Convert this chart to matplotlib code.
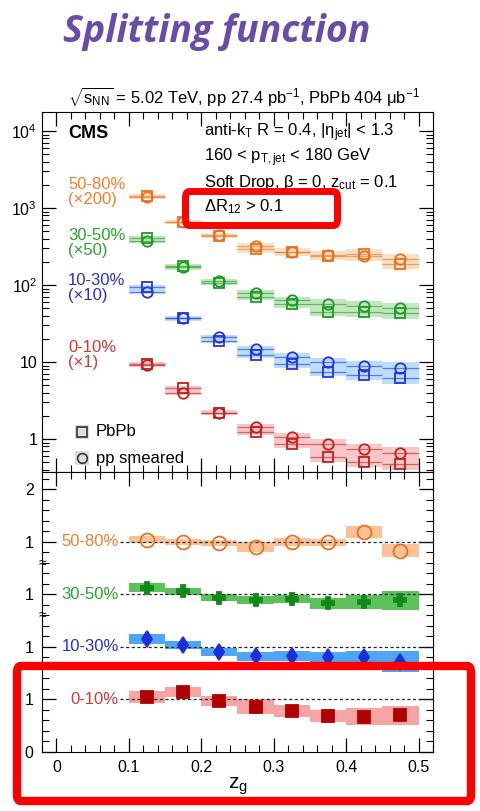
import matplotlib

matplotlib.use("Agg")
import matplotlib.pyplot as plt
from matplotlib.patches import Rectangle, FancyBboxPatch
from matplotlib.ticker import FixedLocator, MultipleLocator, LogLocator, NullFormatter, FixedFormatter

plt.rcParams.update({
    "font.family": ["Liberation Sans", "DejaVu Sans"],
    "font.size": 12,
    "mathtext.fontset": "custom",
    "mathtext.rm": "Liberation Sans",
    "mathtext.it": "Liberation Sans:italic",
    "mathtext.bf": "Liberation Sans:bold",
    "xtick.direction": "in",
    "ytick.direction": "in",
    "xtick.labelsize": 11.5,
    "ytick.labelsize": 11.5,
})

# z_g bins
ZG_LO = [0.10, 0.15, 0.20, 0.25, 0.30, 0.35, 0.40, 0.45]
ZG = [0.125, 0.175, 0.225, 0.275, 0.325, 0.375, 0.425, 0.475]
ANCHO = 0.05

# top panel: 1/N dN/dz_g, already multiplied by the factor in the label
PBPB_0_10 = [9.4, 4.6, 2.2, 1.23, 0.86, 0.58, 0.50, 0.47]
PP_0_10 = [9.1, 4.0, 2.2, 1.43, 1.06, 0.87, 0.74, 0.66]
PBPB_10_30 = [94, 37, 19, 12.3, 9.4, 7.4, 6.8, 6.2]
PP_10_30 = [81, 37, 21, 14.8, 11.6, 10.0, 8.9, 8.4]
PBPB_30_50 = [410, 175, 107, 70, 57, 45, 45, 43]
PP_30_50 = [370, 170, 112, 79, 63, 57, 53, 50]
PBPB_50_80 = [1450, 660, 435, 290, 270, 240, 255, 188]
PP_50_80 = [1400, 660, 440, 320, 270, 242, 240, 217]
SYS_TOP = [0.06, 0.07, 0.08, 0.10, 0.12, 0.14, 0.16, 0.18]

# bottom panel: PbPb / pp smeared
RATIO_0_10 = [1.05, 1.14, 0.97, 0.86, 0.78, 0.69, 0.67, 0.70]
ERR_0_10 = [0.12, 0.10, 0.10, 0.14, 0.12, 0.11, 0.16, 0.18]
RATIO_10_30 = [1.15, 1.04, 0.90, 0.82, 0.83, 0.80, 0.80, 0.72]
ERR_10_30 = [0.10, 0.08, 0.08, 0.08, 0.09, 0.10, 0.13, 0.20]
RATIO_30_50 = [1.13, 1.06, 0.94, 0.89, 0.91, 0.83, 0.85, 0.89]
ERR_30_50 = [0.08, 0.07, 0.07, 0.08, 0.08, 0.11, 0.13, 0.18]
RATIO_50_80 = [1.04, 1.00, 0.98, 0.90, 1.00, 0.99, 1.19, 0.83]
ERR_50_80 = [0.07, 0.06, 0.06, 0.09, 0.07, 0.07, 0.12, 0.12]

CENTRALIDAD = ["0-10%", "10-30%", "30-50%", "50-80%"]
FACTOR = ["(×1)", "(×10)", "(×50)", "(×200)"]

NARANJA = "#ef7f2e"
VERDE = "#2ea02c"
AZUL = "#2a2fd0"
ROJO = "#d03838"

series = [
    # label color, marker color, top light, ratio box, ratio marker, data
    dict(txt=ROJO, mk="#c41e1e", luz="#f7b0b0", caja="#f59a9a", mr="s", mc="#b00000", ms=8,
         pbpb=PBPB_0_10, pp=PP_0_10, r=RATIO_0_10, e=ERR_0_10, ytxt=355),
    dict(txt=AZUL, mk="#2233dd", luz="#9fcfff", caja="#3a9cf5", mr="d", mc="#1f2fd8", ms=8,
         pbpb=PBPB_10_30, pp=PP_10_30, r=RATIO_10_30, e=ERR_10_30, ytxt=288),
    dict(txt=VERDE, mk="#1f9a26", luz="#a9dea5", caja="#4bbb48", mr="P", mc="#0f8a1a", ms=9,
         pbpb=PBPB_30_50, pp=PP_30_50, r=RATIO_30_50, e=ERR_30_50, ytxt=243),
    dict(txt=NARANJA, mk="#e8711f", luz="#fcd2ad", caja="#fbbd8a", mr="o", mc="none", ms=10,
         pbpb=PBPB_50_80, pp=PP_50_80, r=RATIO_50_80, e=ERR_50_80, ytxt=192),
]

W, H = 481, 811
fig = plt.figure(figsize=(W / 100, H / 100), dpi=100)
ax = fig.add_axes([42 / W, 1 - 472 / H, 391 / W, 360 / H])
axr = fig.add_axes([42 / W, 1 - 752 / H, 391 / W, 280 / H], sharex=ax)

XMIN, XMAX = -0.02, 0.52

# ---- top panel
for s in series:
    for lo, v1, v2, sy in zip(ZG_LO, s["pbpb"], s["pp"], SYS_TOP):
        top = max(v1, v2) * (1 + sy)
        bot = min(v1, v2) / (1 + sy)
        ax.add_patch(Rectangle((lo, bot), ANCHO, top - bot, fc=s["luz"], ec="none", alpha=0.7, zorder=1))
        ax.hlines([v1, v2], lo, lo + ANCHO, color=s["mk"], lw=0.9, alpha=0.6, zorder=2)
    ax.plot(ZG, s["pbpb"], ls="none", marker="s", ms=7, mfc="none", mec=s["mk"], mew=1.3, zorder=4)
    ax.plot(ZG, s["pp"], ls="none", marker="o", ms=7.5, mfc="none", mec=s["mk"], mew=1.3, zorder=4)

ax.set_yscale("log")
ax.set_xlim(XMIN, XMAX)
ax.set_ylim(10 ** -0.4286, 10 ** 4.247)
ax.yaxis.set_major_locator(FixedLocator([1, 10, 100, 1000, 10000]))
ax.yaxis.set_major_formatter(FixedFormatter(["1", "10", "10$^2$", "10$^3$", "10$^4$"]))
ax.yaxis.set_minor_locator(LogLocator(subs=range(2, 10)))
ax.yaxis.set_minor_formatter(NullFormatter())
ax.tick_params(axis="both", which="both", top=True, right=True, labelbottom=False)
ax.tick_params(which="major", length=10, width=0.9)
ax.tick_params(which="minor", length=5, width=0.8)

for s, cen, fac in zip(series, CENTRALIDAD, FACTOR):
    ax.text((68 - 42) / 391, (472 - s["ytxt"]) / 360, f"{cen}\n{fac}", transform=ax.transAxes,
            color=s["txt"], ha="left", va="center", linespacing=1.05, fontsize=12)

ax.text((68 - 42) / 391, (472 - 133) / 360, "CMS", transform=ax.transAxes, fontsize=13,
        fontweight="bold", va="center")
info = [
    "anti-k$_\\mathregular{T}$ R = 0.4, |η$_\\mathregular{jet}$| < 1.3",
    "160 < p$_\\mathregular{T,jet}$ < 180 GeV",
    "Soft Drop, β = 0, z$_\\mathregular{cut}$ = 0.1",
    "ΔR$_\\mathregular{12}$ > 0.1",
]
for i, t in enumerate(info):
    ax.text((204 - 42) / 391, (472 - 133 - 24.5 * i) / 360, t, transform=ax.transAxes,
            fontsize=12, va="center")

# legend
for yl, mk, lab in [(432, "s", "PbPb"), (458, "o", "pp smeared")]:
    ya = (472 - yl) / 360
    ax.add_patch(Rectangle(((75 - 42) / 391, ya - 0.02), 14 / 391, 0.04, transform=ax.transAxes,
                           fc="#dddddd", ec="none", zorder=3))
    ax.plot([(82 - 42) / 391], [ya], transform=ax.transAxes, marker=mk, ms=7, mfc="none",
            mec="#333333", mew=1.2, zorder=4)
    ax.text((96 - 42) / 391, ya, lab, transform=ax.transAxes, va="center", fontsize=12)

fig.text(244 / W, 1 - 97 / H,
         "$\\sqrt{\\mathregular{s}_\\mathregular{NN}}$ = 5.02 TeV, pp 27.4 pb$^\\mathregular{-1}$, "
         "PbPb 404 μb$^\\mathregular{-1}$", ha="center", va="center", fontsize=12)

# ---- ratio panel, each centrality shifted up by one unit
for k, (s, cen) in enumerate(zip(series, CENTRALIDAD)):
    for lo, r, e in zip(ZG_LO, s["r"], s["e"]):
        axr.add_patch(Rectangle((lo, r + k - e), ANCHO, 2 * e, fc=s["caja"], ec="none", alpha=0.9, zorder=1))
    axr.plot([0.088, XMAX], [1 + k, 1 + k], color="#222222", lw=0.9, ls=(0, (2.5, 2)), zorder=2)
    mfc = "none" if s["mr"] == "o" else s["mc"]
    mec = s["mk"] if s["mr"] == "o" else s["mc"]
    axr.plot(ZG, [r + k for r in s["r"]], ls="none", marker=s["mr"], ms=s["ms"], mfc=mfc, mec=mec,
             mew=1.3, zorder=4)
    axr.text(0.086, 1 + k, cen, color=s["txt"], ha="right", va="center", fontsize=12)

axr.set_xlim(XMIN, XMAX)
axr.set_ylim(0, 5.33)
axr.yaxis.set_major_locator(FixedLocator([0, 1, 2, 3, 4, 5]))
axr.yaxis.set_major_formatter(FixedFormatter(["0", "1", "1", "1", "1", "2"]))
axr.yaxis.set_minor_locator(MultipleLocator(0.2))
axr.xaxis.set_major_locator(FixedLocator([0, 0.1, 0.2, 0.3, 0.4, 0.5]))
axr.xaxis.set_major_formatter(FixedFormatter(["0", "0.1", "0.2", "0.3", "0.4", "0.5"]))
axr.xaxis.set_minor_locator(MultipleLocator(0.02))
axr.tick_params(axis="both", which="both", top=True, right=True)
axr.tick_params(which="major", length=10, width=0.9, pad=6)
axr.tick_params(which="minor", length=5, width=0.8)
axr.set_xlabel("z$_\\mathregular{g}$", fontsize=15, labelpad=0)

# axis break marks between the stacked ratio blocks
for yb in [1.62, 2.6, 3.6]:
    axr.text(0, yb, "≈", transform=axr.get_yaxis_transform(), ha="center", va="center",
             fontsize=10)

fig.text(217 / W, 1 - 42 / H, "Splitting function", ha="center", va="baseline", fontsize=27,
         fontstyle="italic", fontweight="bold", color="#6a4ca8", family=["Open Sans", "DejaVu Sans"])

# highlight frames
for (x0, y0, x1, y1, lw) in [(185.5, 191.5, 337.5, 225.5, 5), (17, 666, 471, 801, 6)]:
    fig.add_artist(FancyBboxPatch((x0 / W, 1 - y1 / H), (x1 - x0) / W, (y1 - y0) / H,
                                  boxstyle="round,pad=0,rounding_size=0.008", transform=fig.transFigure,
                                  fc="none", ec="#ff0000", lw=lw, zorder=10))

fig.savefig("out.png", dpi=100)
